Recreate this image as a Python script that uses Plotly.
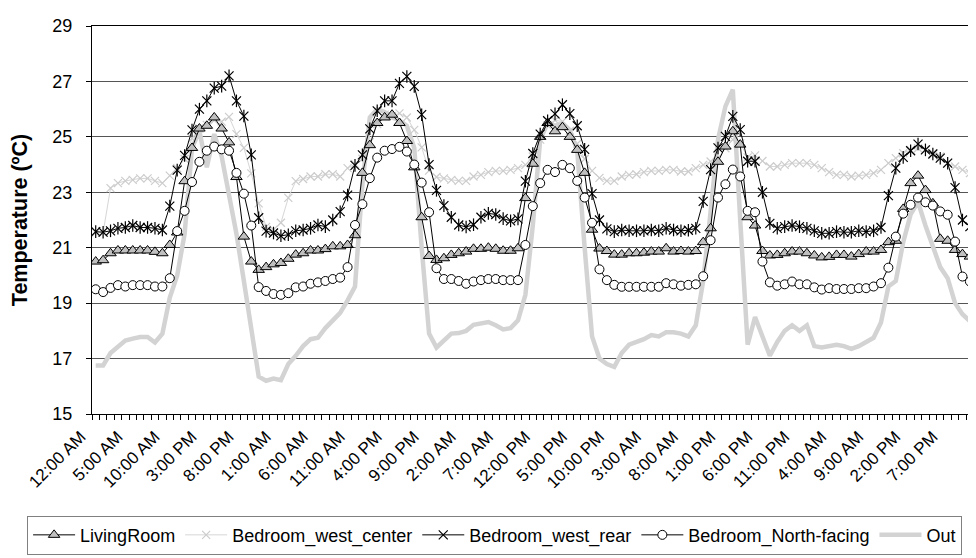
import plotly.graph_objects as go

# hourly samples over 5 days (120 hours)
hours = list(range(120))

tick_labels = ["12:00 AM", "5:00 AM", "10:00 AM", "3:00 PM", "8:00 PM", "1:00 AM", "6:00 AM",
               "11:00 AM", "4:00 PM", "9:00 PM", "2:00 AM", "7:00 AM", "12:00 PM", "5:00 PM",
               "10:00 PM", "3:00 AM", "8:00 AM", "1:00 PM", "6:00 PM", "11:00 PM", "4:00 AM",
               "9:00 AM", "2:00 PM", "7:00 PM"]
tick_positions = list(range(0, 120, 5))

living_room = [
    20.5, 20.55, 20.8, 20.9, 20.9, 20.9, 20.9, 20.9, 20.85, 20.8,
    21.1, 21.55, 23.4, 24.6, 25.3, 25.4, 25.7, 25.3, 24.8, 23.55,
    21.4, 20.5, 20.2, 20.3, 20.4, 20.45, 20.6, 20.75, 20.8, 20.9,
    20.9, 20.95, 21.05, 21.05, 21.1, 21.45, 23.7, 24.7, 25.5, 25.7,
    25.8, 25.5, 24.85, 23.9, 22.1, 20.7, 20.56, 20.62, 20.74, 20.8,
    20.86, 20.96, 20.96, 21.0, 20.96, 20.89, 20.89, 20.98, 22.79, 24.03,
    25.0, 25.5, 25.2, 25.35, 25.0, 24.53, 23.7, 21.65, 20.97, 20.88,
    20.75, 20.75, 20.8, 20.8, 20.82, 20.86, 20.86, 20.98, 20.86, 20.88,
    20.86, 20.88, 21.2, 21.7, 24.1, 24.65, 25.2, 24.72, 22.1, 21.8,
    20.88, 20.72, 20.74, 20.8, 20.86, 20.86, 20.8, 20.72, 20.65, 20.67,
    20.74, 20.74, 20.68, 20.77, 20.86, 20.86, 20.92, 21.2, 21.25, 22.4,
    23.33, 23.6, 23.08, 22.6, 21.32, 21.25, 20.92, 20.77, 20.68, 20.6]

bedroom_west_center = [
    21.55, 21.55, 23.15, 23.33, 23.41, 23.45, 23.5, 23.5, 23.41, 23.33,
    23.6, 23.87, 24.2, 24.95, 25.3, 25.43, 25.6, 25.55, 25.72, 25.1,
    24.6, 23.68, 22.6, 21.75, 21.65, 21.9, 22.8, 23.4, 23.48, 23.57,
    23.57, 23.65, 23.65, 23.57, 23.87, 24.01, 24.21, 24.81, 25.46, 25.8,
    25.75, 25.85, 25.7, 25.25, 24.62, 23.78, 23.55, 23.5, 23.45, 23.41,
    23.41, 23.57, 23.63, 23.73, 23.77, 23.77, 23.81, 23.87, 23.99, 24.29,
    24.9, 25.42, 25.6, 25.55, 25.22, 24.75, 24.2, 23.77, 23.52, 23.41,
    23.41, 23.57, 23.63, 23.65, 23.73, 23.77, 23.77, 23.81, 23.81, 23.75,
    23.75, 23.87, 23.99, 24.11, 24.23, 24.59, 24.9, 24.77, 24.26, 24.33,
    24.13, 23.93, 23.93, 23.99, 24.05, 24.05, 24.05, 23.99, 23.87, 23.73,
    23.63, 23.63, 23.57, 23.6, 23.63, 23.69, 23.81, 24.05, 24.23, 24.41,
    24.53, 24.59, 24.55, 24.41, 24.29, 24.05, 23.93, 23.81, 23.69, 23.63]

bedroom_west_rear = [
    21.58, 21.56, 21.61, 21.7, 21.73, 21.8, 21.73, 21.73, 21.7, 21.64,
    22.5, 23.8, 24.33, 25.25, 26.0, 26.3, 26.76, 26.83, 27.2, 26.3,
    25.75, 24.35, 22.08, 21.6, 21.53, 21.43, 21.47, 21.61, 21.64, 21.7,
    21.82, 21.76, 22.0, 22.3, 22.9, 23.97, 24.35, 25.29, 25.94, 26.3,
    26.3, 26.93, 27.18, 26.82, 25.8, 24.0, 23.07, 22.52, 22.1, 21.82,
    21.75, 21.83, 22.1, 22.24, 22.2, 22.05, 21.97, 22.04, 23.4, 24.4,
    25.1, 25.58, 25.83, 26.16, 25.84, 25.4, 24.55, 22.95, 22.0, 21.68,
    21.58, 21.64, 21.61, 21.61, 21.61, 21.64, 21.61, 21.7, 21.64, 21.61,
    21.63, 21.7, 22.67, 23.82, 24.6, 25.02, 25.74, 25.26, 24.12, 24.12,
    23.0, 21.88, 21.7, 21.76, 21.8, 21.76, 21.7, 21.61, 21.52, 21.52,
    21.58, 21.56, 21.56, 21.61, 21.58, 21.61, 21.73, 22.88, 23.87, 24.26,
    24.5, 24.74, 24.53, 24.38, 24.23, 24.05, 23.17, 22.0, 21.76, 21.64]

bedroom_north_facing = [
    19.5, 19.4, 19.55, 19.65, 19.6, 19.65, 19.65, 19.65, 19.6, 19.6,
    19.9, 21.6, 22.33, 23.37, 24.1, 24.5, 24.65, 24.55, 24.5, 23.7,
    22.95, 21.8, 19.58, 19.44, 19.33, 19.3, 19.36, 19.57, 19.6, 19.7,
    19.75, 19.8, 19.87, 19.92, 20.3, 21.82, 22.57, 23.51, 24.25, 24.5,
    24.56, 24.64, 24.47, 24.0, 23.35, 22.28, 20.26, 19.87, 19.87, 19.8,
    19.7, 19.78, 19.83, 19.87, 19.87, 19.83, 19.83, 19.83, 21.1, 22.5,
    23.33, 23.81, 23.73, 23.99, 23.87, 23.41, 22.81, 21.9, 20.22, 19.83,
    19.66, 19.59, 19.59, 19.59, 19.59, 19.59, 19.59, 19.72, 19.68, 19.63,
    19.66, 19.68, 19.97, 21.27, 22.81, 23.29, 23.82, 23.57, 22.33, 22.28,
    20.5, 19.75, 19.63, 19.68, 19.78, 19.68, 19.68, 19.57, 19.49, 19.54,
    19.51, 19.51, 19.51, 19.54, 19.54, 19.6, 19.72, 20.28, 21.4, 22.23,
    22.55, 22.81, 22.64, 22.52, 22.31, 22.19, 21.22, 19.96, 19.78, 19.63]

outside = [
    16.75, 16.75, 17.2, 17.45, 17.65, 17.72, 17.78, 17.78, 17.58, 17.9,
    19.2, 20.0, 21.5, 24.6, 25.2, 23.9, 25.1, 24.3, 23.0, 21.5,
    19.8, 18.0, 16.35, 16.2, 16.28, 16.22, 16.8, 17.1, 17.45, 17.7,
    17.75, 18.1, 18.35, 18.65, 19.1, 19.6, 23.3, 25.7, 26.0, 25.9,
    25.7, 25.6, 25.4, 24.6, 21.0, 17.9, 17.4, 17.65, 17.9, 17.92,
    18.0, 18.22, 18.28, 18.32, 18.2, 18.05, 18.1, 18.38, 19.3, 21.8,
    24.9, 25.5, 25.4, 25.5, 25.25, 24.5, 21.0, 17.8, 17.0, 16.8,
    16.7, 17.2, 17.5, 17.6, 17.7, 17.85, 17.8, 17.95, 17.95, 17.9,
    17.8, 18.2, 19.8, 22.3, 24.9, 26.1, 26.7, 22.0, 17.5, 18.5,
    17.8, 17.1, 17.6, 18.0, 18.2, 18.0, 18.2, 17.45, 17.4, 17.45,
    17.5, 17.45, 17.35, 17.45, 17.6, 17.75, 18.3, 19.6, 19.8, 21.2,
    22.2, 22.65, 21.8, 21.1, 20.3, 19.9, 19.0, 18.6, 18.35, 18.2]

fig = go.Figure()

fig.add_trace(go.Scatter(
    x=hours, y=outside, name="Out", mode="lines", legendrank=5,
    line=dict(color="#d3d3d3", width=4.5)))

fig.add_trace(go.Scatter(
    x=hours, y=bedroom_west_center, name="Bedroom_west_center", mode="lines+markers", legendrank=2,
    line=dict(color="#d6d6d6", width=1),
    marker=dict(symbol="x-thin-open", size=8, color="#cccccc", line=dict(color="#cccccc", width=1.2))))

fig.add_trace(go.Scatter(
    x=hours, y=living_room, name="LivingRoom", mode="lines+markers", legendrank=1,
    line=dict(color="black", width=1),
    marker=dict(symbol="triangle-up", size=10, color="#c0c0c0", line=dict(color="black", width=1))))

fig.add_trace(go.Scatter(
    x=hours, y=bedroom_west_rear, name="Bedroom_west_rear", mode="lines+markers", legendrank=3,
    legendgroup="wr",
    line=dict(color="black", width=1),
    marker=dict(symbol="x-thin-open", size=9, color="black", line=dict(color="black", width=1.2))))
fig.add_trace(go.Scatter(
    x=hours, y=bedroom_west_rear, name="Bedroom_west_rear", mode="markers", showlegend=False,
    legendgroup="wr", hoverinfo="skip",
    marker=dict(symbol="line-ns-open", size=9, color="black", line=dict(color="black", width=1.2))))

fig.add_trace(go.Scatter(
    x=hours, y=bedroom_north_facing, name="Bedroom_North-facing", mode="lines+markers", legendrank=4,
    line=dict(color="black", width=1),
    marker=dict(symbol="circle", size=9, color="white", line=dict(color="black", width=1))))

fig.update_layout(
    width=976, height=558,
    margin=dict(l=84, r=3, t=18, b=152, autoexpand=False),
    paper_bgcolor="white", plot_bgcolor="white",
    font=dict(family="Liberation Sans, Arial, sans-serif", size=17, color="black"),
    showlegend=True,
    legend=dict(orientation="h", x=-0.073, y=-0.262, xanchor="left", yanchor="top",
                bordercolor="#808080", borderwidth=1, bgcolor="white", itemwidth=42,
                font=dict(size=18, color="black"), traceorder="normal"),
)

fig.update_xaxes(
    range=[-0.5, 119.5], tickmode="array", tickvals=tick_positions, ticktext=tick_labels,
    tickangle=-45, ticks="outside", ticklen=5, tickcolor="rgba(0,0,0,0)",
    tickfont=dict(size=17), ticklabelshift=-15,
    showline=True, linecolor="black", linewidth=1, mirror=True,
    showgrid=False, zeroline=False, automargin=False,
    minor=dict(ticks="outside", ticklen=5, tickcolor="black", tick0=-0.5, dtick=1, showgrid=False),
)

fig.update_yaxes(
    range=[15, 29], tickmode="linear", tick0=15, dtick=2,
    ticks="outside", ticklen=5, tickcolor="black", tickfont=dict(size=18), ticklabelstandoff=10,
    showline=True, linecolor="black", linewidth=1, mirror=True,
    showgrid=True, gridcolor="#555555", gridwidth=1, zeroline=False, automargin=False,
    title=dict(text="Temperature (ºC)", font=dict(size=21.5, weight="bold"), standoff=18),
)

fig.write_html("out.html")
